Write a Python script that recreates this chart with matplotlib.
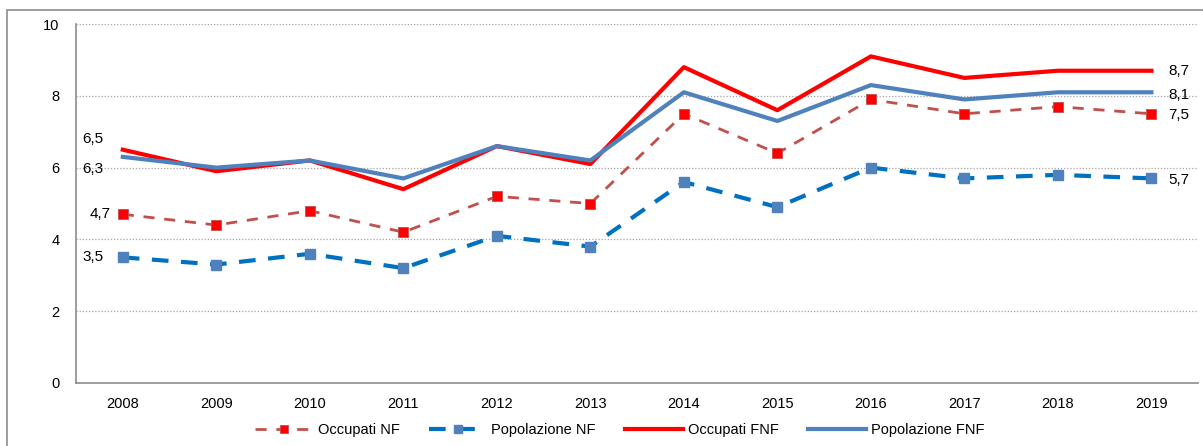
import matplotlib.pyplot as plt
from matplotlib.patches import Rectangle

plt.rcParams['font.family'] = ['Liberation Sans', 'DejaVu Sans']

anni = ['2008', '2009', '2010', '2011', '2012', '2013', '2014', '2015', '2016', '2017', '2018', '2019']
occupati_nf = [4.7, 4.4, 4.8, 4.2, 5.2, 5.0, 7.5, 6.4, 7.9, 7.5, 7.7, 7.5]
popolazione_nf = [3.5, 3.3, 3.6, 3.2, 4.1, 3.8, 5.6, 4.9, 6.0, 5.7, 5.8, 5.7]
occupati_fnf = [6.5, 5.9, 6.2, 5.4, 6.6, 6.1, 8.8, 7.6, 9.1, 8.5, 8.7, 8.7]
popolazione_fnf = [6.3, 6.0, 6.2, 5.7, 6.6, 6.2, 8.1, 7.3, 8.3, 7.9, 8.1, 8.1]

fig = plt.figure(figsize=(12.03, 4.46), dpi=100)
ax = fig.add_axes([0.0632, 0.1413, 0.9328, 0.8047])

# outer frame like the excel chart area
fig.patches.append(Rectangle((7 / 1203, -0.01), 1.0, 1 - 10 / 446 + 0.01, transform=fig.transFigure,
                             fill=False, edgecolor='#8c8c8c', lw=1.2))

x = list(range(len(anni)))
ax.plot(x, occupati_nf, color='#C0504D', lw=2, dashes=(4, 3.5), marker='s', ms=7.5,
        mfc='#FF0000', mec='#C0504D', mew=0.6, label='Occupati NF')
ax.plot(x, popolazione_nf, color='#0070C0', lw=3, dashes=(4, 3), marker='s', ms=7.5,
        mfc='#4F81BD', mec='#4F81BD', label='Popolazione NF')
ax.plot(x, occupati_fnf, color='#FF0000', lw=3, label='Occupati FNF')
ax.plot(x, popolazione_fnf, color='#4F81BD', lw=3, label='Popolazione FNF')

def fmt(v):
    return ('%.1f' % v).replace('.', ',')

# data labels on first and last points
ax.annotate(fmt(occupati_fnf[0]), (0, occupati_fnf[0]), xytext=(-14, 8), textcoords='offset points',
            ha='right', va='center', fontsize=11)
ax.annotate(fmt(popolazione_fnf[0]), (0, popolazione_fnf[0]), xytext=(-14, -9), textcoords='offset points',
            ha='right', va='center', fontsize=11)
ax.annotate(fmt(occupati_nf[0]), (0, occupati_nf[0]), xytext=(-9, 0), textcoords='offset points',
            ha='right', va='center', fontsize=11)
ax.annotate(fmt(popolazione_nf[0]), (0, popolazione_nf[0]), xytext=(-14, 0), textcoords='offset points',
            ha='right', va='center', fontsize=11)
last = len(anni) - 1
for serie, dy in [(occupati_fnf, 0), (popolazione_fnf, -2), (occupati_nf, -1), (popolazione_nf, -1)]:
    ax.annotate(fmt(serie[last]), (last, serie[last]), xytext=(12, dy), textcoords='offset points',
                ha='left', va='center', fontsize=11)

ax.set_xlim(-0.5, len(anni) - 0.5)
ax.set_ylim(0, 10)
ax.set_yticks([0, 2, 4, 6, 8, 10])
ax.set_xticks(x)
ax.set_xticklabels(anni)
ax.tick_params(axis='y', length=0, pad=12, labelsize=10.5)
ax.tick_params(axis='x', length=0, pad=10, labelsize=10.5)
ax.grid(axis='y', color='#a6a6a6', ls=(0, (1, 1.5)), lw=0.9)
ax.set_axisbelow(True)
for s in ['top', 'right']:
    ax.spines[s].set_visible(False)
ax.spines['left'].set_color('#8c8c8c')
ax.spines['bottom'].set_color('#8c8c8c')
ax.spines['left'].set_linewidth(1.2)
ax.spines['bottom'].set_linewidth(1.2)

fig.legend(loc='center', bbox_to_anchor=(0.515, 0.035), ncol=4, frameon=False, fontsize=10.5,
           handlelength=4, columnspacing=2.0, handletextpad=0.3, markerscale=0.7)

fig.savefig('out.png', dpi=100)
